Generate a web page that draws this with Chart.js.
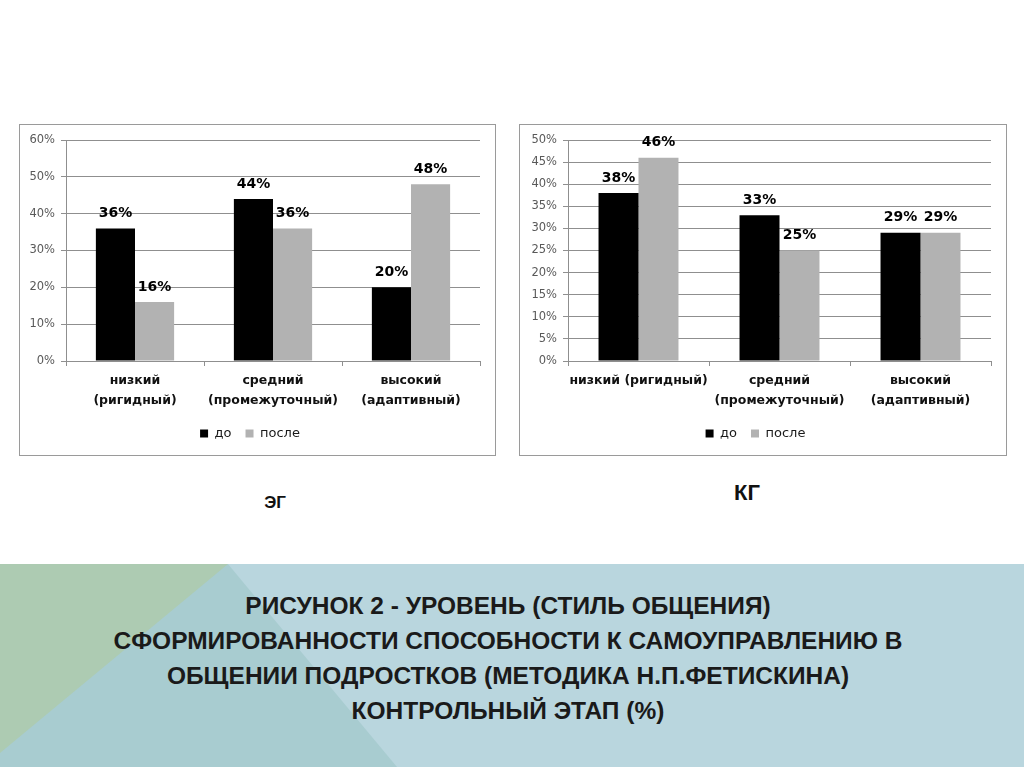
<!DOCTYPE html>
<html lang="ru">
<head>
<meta charset="utf-8">
<script src="https://cdn.jsdelivr.net/npm/chart.js@4.4.1/dist/chart.umd.min.js"></script>
<style>
  html, body { margin: 0; padding: 0; background: #ffffff; }
  #page { position: relative; width: 1024px; height: 767px; overflow: hidden; background: #ffffff; }
  .box { position: absolute; box-sizing: border-box; border: 1px solid #9a9a9a; background: #fff; }
  .box .wrap { position: absolute; left: 0; top: 0; }
  .grp { position: absolute; font-family: "Liberation Sans", Arial, sans-serif; font-weight: bold; color: #111; transform: translate(-50%, -50%); white-space: nowrap; line-height: 1; }
  .band { position: absolute; left: 0; top: 564px; width: 1024px; height: 203px; }
  #title { position: absolute; left: 8px; width: 1000px; top: 588px; text-align: center; font-family: "Liberation Sans", Arial, sans-serif; font-weight: bold; font-size: 24.5px; line-height: 35px; color: #1a1a1a; }
</style>
</head>
<body>
<div id="page">
  <div class="box" style="left:19px; top:124px; width:477px; height:332px;">
    <div class="wrap" style="width:475px; height:330px;"><canvas id="eg"></canvas></div>
  </div>
  <div class="box" style="left:519px; top:124px; width:488px; height:332px;">
    <div class="wrap" style="width:486px; height:330px;"><canvas id="kg"></canvas></div>
  </div>
  <div class="grp" style="left:275px; top:502px; font-size:17px;">ЭГ</div>
  <div class="grp" style="left:747px; top:493px; font-size:22px;">КГ</div>

  <div class="band" style="background:#b9d6de;"></div>
  <div class="band" style="background:#a8ccd0; clip-path: polygon(228px 0px, 397px 203px, 0px 203px, 0px 0px);"></div>
  <div class="band" style="background:#adcbb2; clip-path: polygon(0px 0px, 228px 0px, 0px 189px);"></div>
  <div id="title">РИСУНОК 2 - УРОВЕНЬ (СТИЛЬ ОБЩЕНИЯ)<br>СФОРМИРОВАННОСТИ СПОСОБНОСТИ К САМОУПРАВЛЕНИЮ В<br>ОБЩЕНИИ ПОДРОСТКОВ (МЕТОДИКА Н.П.ФЕТИСКИНА)<br>КОНТРОЛЬНЫЙ ЭТАП (%)</div>
</div>

<script>
// ---- data ----
const seriesNames = ['до', 'после'];
const categoriesEG = [['низкий', '(ригидный)'], ['средний', '(промежуточный)'], ['высокий', '(адаптивный)']];
const categoriesKG = ['низкий (ригидный)', ['средний', '(промежуточный)'], ['высокий', '(адаптивный)']];
const egBefore = [36, 44, 20];
const egAfter  = [16, 36, 48];
const kgBefore = [38, 33, 29];
const kgAfter  = [46, 25, 29];
const egAxis = { max: 60, step: 10 };
const kgAxis = { max: 50, step: 5 };

// ---- styles ----
const COLOR_BEFORE = '#000000';
const COLOR_AFTER = '#b2b2b2';
const GRID = '#8f8f8f';
Chart.defaults.font.family = '"DejaVu Sans", "Liberation Sans", sans-serif';

const valueLabels = {
  id: 'valueLabels',
  afterDatasetsDraw(chart) {
    const ctx = chart.ctx;
    ctx.save();
    ctx.font = 'bold 14px "DejaVu Sans", sans-serif';
    ctx.fillStyle = '#000';
    ctx.textAlign = 'center';
    ctx.textBaseline = 'middle';
    chart.data.datasets.forEach((ds, i) => {
      chart.getDatasetMeta(i).data.forEach((bar, j) => {
        ctx.fillText(ds.data[j] + '%', bar.x, bar.y - 15);
      });
    });
    ctx.restore();
  }
};

function makeChart(id, labels, before, after, axis, yWidth) {
  return new Chart(document.getElementById(id), {
    type: 'bar',
    data: {
      labels: labels,
      datasets: [
        { label: seriesNames[0], data: before, backgroundColor: COLOR_BEFORE, borderWidth: 0,
          categoryPercentage: 0.567, barPercentage: 1.0 },
        { label: seriesNames[1], data: after, backgroundColor: COLOR_AFTER, borderWidth: 0,
          categoryPercentage: 0.567, barPercentage: 1.0 }
      ]
    },
    options: {
      responsive: true,
      maintainAspectRatio: false,
      animation: false,
      layout: { padding: { left: 0, right: 15, top: 15, bottom: 5 } },
      plugins: {
        tooltip: { enabled: false },
        legend: {
          position: 'bottom',
          labels: { boxWidth: 8, boxHeight: 8, padding: 14, color: '#1a1a1a',
                    font: { size: 13 } }
        }
      },
      scales: {
        x: {
          grid: { display: true, drawOnChartArea: false, drawTicks: true, tickLength: 5, offset: true, color: GRID },
          border: { display: true, color: GRID },
          ticks: { color: '#111', padding: 5, font: { size: 12.5, weight: 'bold', lineHeight: 1.6 }, maxRotation: 0, autoSkip: false },
          afterFit(scale) { scale.height = 52; }
        },
        y: {
          min: 0, max: axis.max,
          grid: { color: GRID, drawTicks: true, tickLength: 5 },
          border: { display: true, color: GRID },
          ticks: { stepSize: axis.step, color: '#595959', padding: 6, font: { size: 11.5 },
                   callback: v => v + '%' },
          afterFit(scale) { scale.width = yWidth; }
        }
      }
    },
    plugins: [valueLabels]
  });
}

makeChart('eg', categoriesEG, egBefore, egAfter, egAxis, 46);
makeChart('kg', categoriesKG, kgBefore, kgAfter, kgAxis, 48);
</script>
</body>
</html>
